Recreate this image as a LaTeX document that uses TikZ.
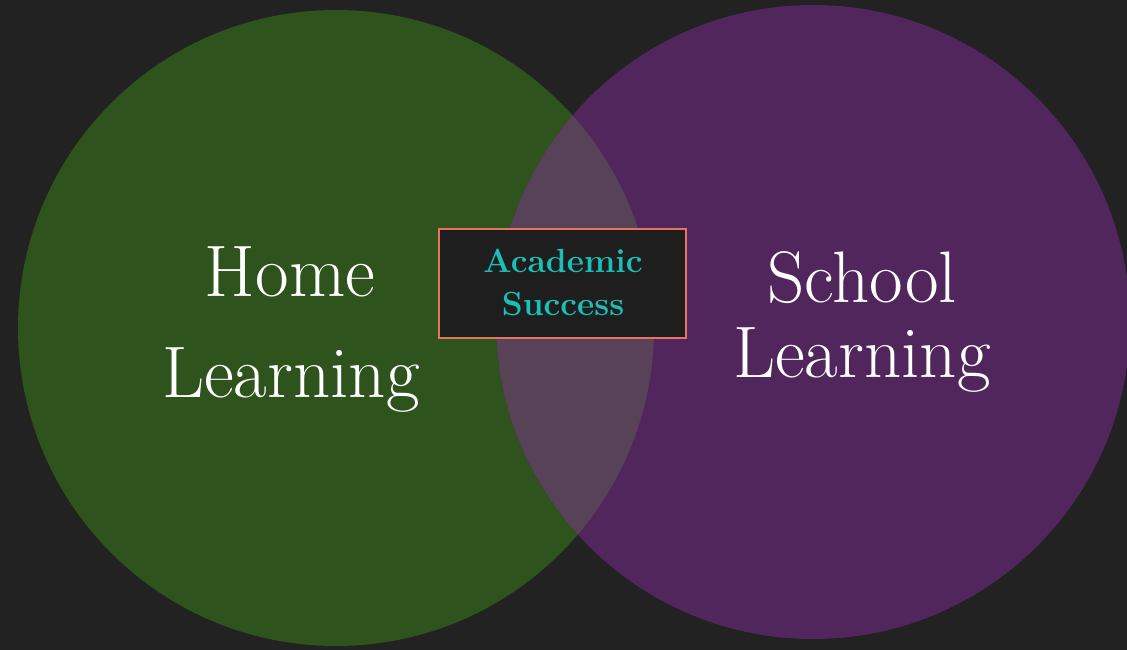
\documentclass[tikz,border=0pt]{standalone}
\usepackage{fontspec}
\definecolor{bgc}{HTML}{222222}
\definecolor{greenc}{HTML}{2E531C}
\definecolor{purplec}{HTML}{50265C}
\definecolor{overlapc}{HTML}{584258}
\definecolor{boxfill}{HTML}{1E1E1E}
\definecolor{boxborder}{HTML}{E8735F}
\definecolor{tealc}{HTML}{1ABFB8}
\begin{document}
\begin{tikzpicture}[x=1pt,y=1pt,
  bigtext/.style={text=white,anchor=base,inner sep=0pt,font=\fontsize{73}{85}\selectfont},
  boxtext/.style={text=tealc,anchor=base,inner sep=0pt,font=\fontsize{33.5}{40}\selectfont\bfseries},
  centerbox/.style={draw=boxborder,line width=2.5pt,fill=boxfill,minimum width=247pt,minimum height=109pt,inner sep=0pt}]
\fill[bgc] (0,0) rectangle (1127,650);
\useasboundingbox (0,0) rectangle (1127,650);
\coordinate (gc) at (336,322);
\coordinate (pc) at (813,328);
\fill[greenc] (gc) circle[radius=318];
\fill[purplec] (pc) circle[radius=317];
\begin{scope}
  \clip (gc) circle[radius=318];
  \fill[overlapc] (pc) circle[radius=317];
\end{scope}
\node[bigtext] (home) at (290,353) {Home};
\node[bigtext] (hlearn) at (291,252) {Learning};
\node[bigtext] (school) at (862,347) {School};
\node[bigtext] (slearn) at (862,272) {Learning};
\node[centerbox] (box) at (562.5,366.5) {};
\node[boxtext] (acad) at (563,377) {Academic};
\node[boxtext] (succ) at (563,334) {Success};
\end{tikzpicture}
\end{document}
